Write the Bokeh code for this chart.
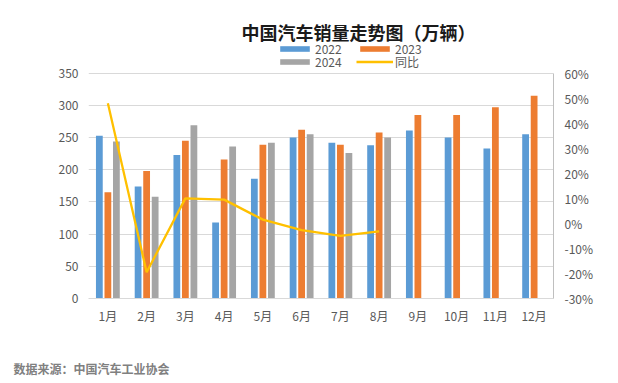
from bokeh.plotting import figure
from bokeh.models import (ColumnDataSource, FactorRange, Range1d, LinearAxis, FixedTicker,
                          CustomJSTickFormatter, Legend, LegendItem, Title, Label)
from bokeh.transform import dodge
from bokeh.embed import file_html
from bokeh.resources import INLINE

months = ["1月", "2月", "3月", "4月", "5月", "6月", "7月", "8月", "9月", "10月", "11月", "12月"]
sales_2022 = [253, 174, 223, 118, 186, 250, 242, 238, 261, 250, 233, 255]
sales_2023 = [165, 198, 245, 216, 239, 262, 239, 258, 285, 285, 297, 315]
months_2024 = ["1月", "2月", "3月", "4月", "5月", "6月", "7月", "8月"]
sales_2024 = [244, 158, 269, 236, 242, 255, 226, 250]
yoy_2024 = [48.0, -19.5, 10.0, 9.5, 1.5, -2.7, -5.0, -3.2]
left_ticks = [0, 50, 100, 150, 200, 250, 300, 350]
right_ticks = [-30, -20, -10, 0, 10, 20, 30, 40, 50, 60]

FONT = "Noto Sans CJK SC"
AXC = "#595959"

# frame extends above the value area so the title & legend sit inside it
FRAME_H = 296.0
VALUE_H = 225.3
left_top = 350 * FRAME_H / VALUE_H
right_top = -30 + 90 * FRAME_H / VALUE_H

src_a = ColumnDataSource(dict(month=months, y22=sales_2022, y23=sales_2023))
src_b = ColumnDataSource(dict(month=months_2024, y24=sales_2024, yoy=yoy_2024))

p = figure(x_range=FactorRange(*months), y_range=Range1d(0, left_top),
           width=618, height=383, output_backend="svg", toolbar_location=None,
           min_border_left=88, min_border_right=65, min_border_top=2, min_border_bottom=85)
p.extra_y_ranges = {"pct": Range1d(-30, right_top)}
p.outline_line_color = None
p.background_fill_color = "white"
p.border_fill_color = "white"

bw = 0.175
r22 = p.vbar(x=dodge("month", -0.22, range=p.x_range), top="y22", width=bw, source=src_a,
             fill_color="#5B9BD5", line_color=None)
r23 = p.vbar(x=dodge("month", 0.0, range=p.x_range), top="y23", width=bw, source=src_a,
             fill_color="#ED7D31", line_color=None)
r24 = p.vbar(x=dodge("month", 0.22, range=p.x_range), top="y24", width=bw, source=src_b,
             fill_color="#A5A5A5", line_color=None)
rl = p.line(x="month", y="yoy", source=src_b, y_range_name="pct",
            line_color="#FFC000", line_width=2.3)

# left axis
p.yaxis.ticker = FixedTicker(ticks=left_ticks)
p.yaxis.axis_line_color = None
p.yaxis.major_tick_line_color = None
p.yaxis.major_tick_out = 0
p.yaxis.minor_tick_line_color = None
p.yaxis.major_label_standoff = 10
p.yaxis.major_label_text_font = FONT
p.yaxis.major_label_text_font_size = "12px"
p.yaxis.major_label_text_color = AXC

# right axis
ra = LinearAxis(y_range_name="pct", ticker=FixedTicker(ticks=right_ticks),
                formatter=CustomJSTickFormatter(code="return tick + '%';"),
                bounds=(-30, 60))
ra.axis_line_color = "#BFBFBF"
ra.major_tick_line_color = None
ra.major_tick_out = 0
ra.minor_tick_line_color = None
ra.major_label_standoff = 11
ra.major_label_text_font = FONT
ra.major_label_text_font_size = "12px"
ra.major_label_text_color = AXC
p.add_layout(ra, "right")

# x axis
p.xaxis.axis_line_color = "#D9D9D9"
p.xaxis.major_tick_line_color = None
p.xaxis.major_tick_out = 0
p.xaxis.minor_tick_line_color = None
p.xaxis.major_label_standoff = 8
p.xaxis.major_label_text_font = FONT
p.xaxis.major_label_text_font_size = "12px"
p.xaxis.major_label_text_color = AXC

p.xgrid.visible = False
p.ygrid.ticker = FixedTicker(ticks=left_ticks)
p.ygrid.grid_line_color = "#D9D9D9"

def row_legend(items, loc):
    return Legend(items=items, orientation="horizontal", location=loc,
                  padding=0, margin=0, spacing=0, border_line_color=None,
                  background_fill_alpha=0, glyph_width=37, glyph_height=7,
                  label_height=12, label_width=41, label_standoff=2,
                  label_text_font=FONT, label_text_font_size="12px",
                  label_text_color=AXC)

leg1 = row_legend([LegendItem(label="2022", renderers=[r22]),
                   LegendItem(label="2023", renderers=[r23])], (188, 241))
leg2 = row_legend([LegendItem(label="2024", renderers=[r24]),
                   LegendItem(label="同比", renderers=[rl])], (188, 228))
p.add_layout(leg1)
p.add_layout(leg2)

title = Label(x=270, y=267, x_units="screen", y_units="screen",
              text="中国汽车销量走势图（万辆）", text_font=FONT, text_font_size="18px",
              text_font_style="bold", text_align="center", text_baseline="middle",
              text_color="#1a1a1a")
p.add_layout(title)

spacer = Title(text=" ", align="left", text_font=FONT, text_font_size="12px", standoff=12)
p.add_layout(spacer, "below")
source = Title(text="数据来源：中国汽车工业协会", align="left", offset=-75,
               text_font=FONT, text_font_size="12px", text_font_style="bold",
               text_color="#808080", standoff=0)
p.add_layout(source, "below")

open("out.html", "w").write(file_html(p, INLINE))
